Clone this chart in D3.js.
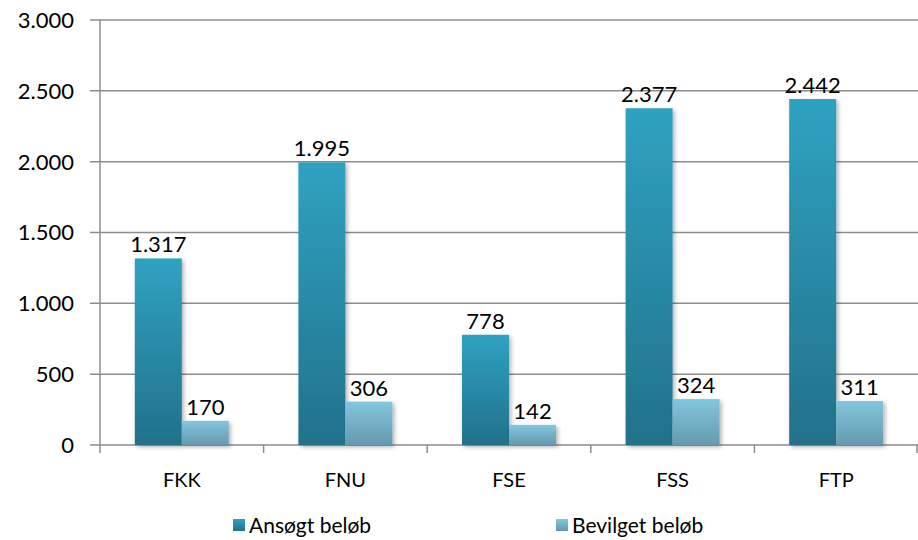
<!DOCTYPE html>
<html lang="da">
<head>
<meta charset="utf-8">
<title>Ansøgt og bevilget beløb</title>
<script src="https://d3js.org/d3.v7.min.js"></script>
<style>
  body { margin: 0; background: #fff; }
  text { font-family: Lato, "Open Sans", sans-serif; fill: #000; }
</style>
</head>
<body>
<script>
  var categories = ["FKK", "FNU", "FSE", "FSS", "FTP"];
  var seriesNames = ["Ansøgt beløb", "Bevilget beløb"];
  var ansoegt = [1317, 1995, 778, 2377, 2442];
  var bevilget = [170, 306, 142, 324, 311];
  var yTicks = [0, 500, 1000, 1500, 2000, 2500, 3000];

  var width = 918, height = 540;
  var margin = {top: 20, right: 0, bottom: 95, left: 100};

  var svg = d3.select("body").append("svg")
      .attr("width", width)
      .attr("height", height);

  var defs = svg.append("defs");
  var grads = [["gDark", "#2fa2c1", "#22718b"], ["gLight", "#82c6de", "#6599ae"]];
  grads.forEach(function(g) {
    var lg = defs.append("linearGradient").attr("id", g[0])
        .attr("x1", 0).attr("y1", 0).attr("x2", 0).attr("y2", 1);
    lg.append("stop").attr("offset", "0%").attr("stop-color", g[1]);
    lg.append("stop").attr("offset", "100%").attr("stop-color", g[2]);
  });
  var f = defs.append("filter").attr("id", "shadow")
      .attr("x", "-20%").attr("y", "-10%").attr("width", "150%").attr("height", "130%");
  f.append("feDropShadow").attr("dx", 2).attr("dy", 2).attr("stdDeviation", 2)
      .attr("flood-color", "#000").attr("flood-opacity", 0.3);

  var x = d3.scaleBand().domain(categories)
      .range([margin.left, width - margin.right])
      .paddingInner(0).paddingOuter(0);
  // the two bars take ~94px in the middle of each band
  var xs = d3.scaleBand().domain([0, 1])
      .range([(x.bandwidth() - 94) / 2, (x.bandwidth() + 94) / 2]);

  var y = d3.scaleLinear().domain([0, 3000])
      .range([height - margin.bottom, margin.top]);

  var fmt = function(v) { return d3.format(",")(v).replace(/,/g, "."); };

  // gridlines
  svg.append("g").selectAll("line").data(yTicks).enter().append("line")
      .attr("x1", margin.left - 10).attr("x2", width)
      .attr("y1", function(d) { return y(d); })
      .attr("y2", function(d) { return y(d); })
      .attr("stroke", "#8c8c8c").attr("stroke-width", 1.5);

  // y axis line
  svg.append("line")
      .attr("x1", margin.left).attr("x2", margin.left)
      .attr("y1", y(3000)).attr("y2", y(0) + 8)
      .attr("stroke", "#8c8c8c").attr("stroke-width", 1.5);

  // y labels
  svg.append("g").selectAll("text").data(yTicks).enter().append("text")
      .attr("x", margin.left - 26)
      .attr("y", function(d) { return y(d); })
      .attr("dy", "0.36em")
      .attr("text-anchor", "end")
      .style("font-size", "22px")
      .text(fmt);

  // x tick marks at category boundaries
  var bounds = categories.slice(1).map(function(c) { return x(c); }).concat([width - 1]);
  svg.append("g").selectAll("line").data(bounds).enter().append("line")
      .attr("x1", function(d) { return d; }).attr("x2", function(d) { return d; })
      .attr("y1", y(0)).attr("y2", y(0) + 8)
      .attr("stroke", "#8c8c8c").attr("stroke-width", 1.5);

  var series = [ansoegt, bevilget];
  var fills = ["url(#gDark)", "url(#gLight)"];

  series.forEach(function(vals, si) {
    var g = svg.append("g");
    g.selectAll("rect").data(vals).enter().append("rect")
        .attr("x", function(d, i) { return x(categories[i]) + xs(si); })
        .attr("y", function(d) { return y(d); })
        .attr("width", xs.bandwidth())
        .attr("height", function(d) { return y(0) - y(d); })
        .attr("fill", fills[si])
        .attr("filter", "url(#shadow)");
    g.selectAll("text").data(vals).enter().append("text")
        .attr("x", function(d, i) { return x(categories[i]) + xs(si) + xs.bandwidth() / 2; })
        .attr("y", function(d) { return y(d) - 6; })
        .attr("text-anchor", "middle")
        .style("font-size", "22px")
        .text(fmt);
  });

  // x labels
  svg.append("g").selectAll("text").data(categories).enter().append("text")
      .attr("x", function(d) { return x(d) + x.bandwidth() / 2; })
      .attr("y", 487)
      .attr("text-anchor", "middle")
      .style("font-size", "20px")
      .text(function(d) { return d; });

  // legend
  var legX = [233, 556];
  var leg = svg.append("g").selectAll("g").data(seriesNames).enter().append("g")
      .attr("transform", function(d, i) { return "translate(" + legX[i] + ",519)"; });
  leg.append("rect").attr("width", 12).attr("height", 12)
      .attr("fill", function(d, i) { return fills[i]; });
  leg.append("text").attr("x", 16).attr("y", 6).attr("dy", "0.36em")
      .style("font-size", "21px")
      .text(function(d) { return d; });
</script>
</body>
</html>
